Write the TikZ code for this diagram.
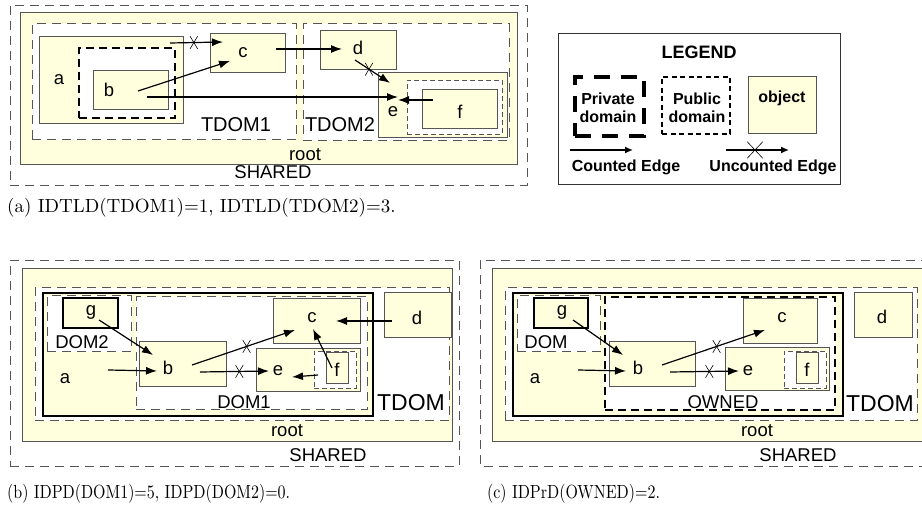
\documentclass[tikz,border=0pt]{standalone}
\usepackage{fontspec}
\usepackage{graphicx}
\usetikzlibrary{arrows.meta,fit,shapes.misc}
\newfontfamily\arialf{Liberation Sans}
\newfontfamily\capfont{lmroman10-regular}[Extension=.otf]
\definecolor{cream}{RGB}{255,255,221}
\definecolor{dgray}{RGB}{85,85,85}
\begin{document}
\begin{tikzpicture}[x=1pt,y=-1pt,
  sharedbox/.style={draw=dgray, line width=0.9pt, dash pattern=on 9pt off 6pt, inner sep=0pt},
  rootbox/.style={fill=cream, draw=dgray, line width=1pt, inner sep=0pt},
  pubdom/.style={fill=white, draw=dgray, line width=1pt, dash pattern=on 9pt off 6pt, inner sep=0pt},
  pubsmall/.style={fill=white, draw=dgray, line width=0.9pt, dash pattern=on 5pt off 3pt, inner sep=0pt},
  privdom/.style={fill=white, draw=black, line width=2.2pt, dash pattern=on 8pt off 5pt, inner sep=0pt},
  objbox/.style={fill=cream, draw=dgray, line width=1pt, inner sep=0pt},
  thickobj/.style={fill=cream, draw=black, line width=1.8pt, inner sep=0pt},
  lbl/.style={font=\arialf\fontsize{18.5}{20}\selectfont, inner sep=0pt},
  albl/.style={font=\arialf\fontsize{20}{22}\selectfont, inner sep=0pt},
  biglbl/.style={font=\arialf\fontsize{23}{26}\selectfont, inner sep=0pt},
  edge/.style={draw=black, line width=1.2pt, -{Latex[length=11pt,width=8pt]}},
  crossx/.style={draw=black, cross out, line width=0.6pt, minimum width=7pt, minimum height=12pt, inner sep=0pt},
  capt/.style={font=\capfont\fontsize{19}{22}\selectfont, inner sep=0pt, anchor=base west},
  legtxt/.style={font=\arialf\bfseries\fontsize{16}{18}\selectfont, inner sep=0pt, align=center},
  legedge/.style={draw=black, line width=1.5pt, -{Latex[length=8pt,width=7pt]}},
]
\useasboundingbox (0,0) rectangle (922,510);

% ================= (a) =================
\node[sharedbox, fit={(10,5) (527,185)}] (Ashared) {};
\node[rootbox, fit={(20,13) (517,165)}] (Aroot) {};
\node[pubdom, fit={(32,24) (296,140)}] (Atdom1) {};
\node[pubdom, fit={(303,24) (509,141)}] (Atdom2) {};
\node[objbox, fit={(39,37) (183,124)}] (Aa) {};
\node[privdom, fit={(79,48) (175,118)}] (Apriv) {};
\node[objbox, fit={(93,71) (168,110)}] (Ab) {};
\node[objbox, fit={(210,34) (285,73)}] (Ac) {};
\node[objbox, fit={(320,31) (396,70)}] (Ad) {};
\node[objbox, fit={(378,73) (507,138)}] (Ae) {};
\node[pubsmall, fit={(407,80) (502,134)}] (Afdom) {};
\node[objbox, fit={(422,90) (497,129)}] (Af) {};

\node[lbl] (Aal) at (59,80) {a};
\node[lbl] (Abl) at (109,90) {b};
\node[lbl] (Acl) at (243,53) {c};
\node[lbl] (Adl) at (358,48) {d};
\node[lbl] (Ael) at (393,112) {e};
\node[lbl] (Afl) at (460,112) {f};
\node[albl] (At1l) at (236,125) {TDOM1};
\node[albl] (At2l) at (340,125) {TDOM2};
\node[lbl] (Arl) at (305,155) {root};
\node[lbl] (Asl) at (273,172) {SHARED};

\coordinate (Aac1) at (170,43);  \coordinate (Aac2) at (223,42);
\coordinate (Abc1) at (138,91);  \coordinate (Abc2) at (230,61);
\coordinate (Abe1) at (147,97);  \coordinate (Abe2) at (398,97);
\coordinate (Acd1) at (276,49);  \coordinate (Acd2) at (342,49);
\coordinate (Ade1) at (355,60);  \coordinate (Ade2) at (390,83);
\coordinate (Afe1) at (433,100); \coordinate (Afe2) at (398,100);
\draw[edge] (Aac1) -- node[crossx, pos=0.45] {} (Aac2);
\draw[edge] (Abc1) -- (Abc2);
\draw[edge] (Abe1) -- (Abe2);
\draw[edge] (Acd1) -- (Acd2);
\draw[edge] (Ade1) -- node[crossx, pos=0.4] {} (Ade2);
\draw[edge] (Afe1) -- (Afe2);

% ================= legend =================
\node[draw=black!80, line width=1pt, fill=white, inner sep=0pt, fit={(558,34) (840,185)}] (Leg) {};
\node[font=\arialf\bfseries\fontsize{18}{20}\selectfont, inner sep=0pt] (Legt) at (699,52) {LEGEND};
\node[draw=black, line width=4.5pt, dash pattern=on 16pt off 11pt, inner sep=0pt, fit={(575,77) (644,136)}] (Lpriv) {};
\node[legtxt] (Lprivt) at (608,108) {Private\\domain};
\node[draw=black, line width=2pt, dash pattern=on 5pt off 3.5pt, inner sep=0pt, fit={(662,77) (730,134)}] (Lpub) {};
\node[legtxt] (Lpubt) at (697,108) {Public\\domain};
\node[objbox, fit={(748,77) (816,134)}] (Lobj) {};
\node[legtxt] (Lobjt) at (782,98) {object};
\coordinate (Lc1) at (570,150); \coordinate (Lc2) at (633,150);
\coordinate (Lu1) at (726,150); \coordinate (Lu2) at (789,150);
\draw[legedge] (Lc1) -- (Lc2);
\draw[legedge] (Lu1) -- node[draw=black, cross out, line width=0.6pt, minimum width=15pt, minimum height=16pt, inner sep=0pt, pos=0.46] {} (Lu2);
\node[legtxt] (Lct) at (626,167) {Counted Edge};
\node[legtxt] (Lut) at (773,167) {Uncounted Edge};

\node[capt] (Acap) at (7,213) {(a) IDTLD(TDOM1)=1, IDTLD(TDOM2)=3.};

% ================= (b) =================
\node[sharedbox, fit={(10,260) (459,466)}] (Bshared) {};
\node[rootbox, fit={(22,269) (452,442)}] (Broot) {};
\node[pubdom, fit={(35,288) (449,421)}] (Btdom) {};
\node[thickobj, fit={(43,293) (373,416)}] (Ba) {};
\node[pubdom, fit={(47,296) (131,352)}] (Bdom2) {};
\node[thickobj, fit={(63,298) (118,328)}] (Bg) {};
\node[pubdom, fit={(136,297) (367,410)}] (Bdom1) {};
\node[objbox, fit={(139,342) (226,387)}] (Bb) {};
\node[objbox, fit={(273,299) (360,344)}] (Bc) {};
\node[objbox, fit={(256,349) (360,392)}] (Be) {};
\node[pubsmall, fit={(314,351) (356,388)}] (Bfdom) {};
\node[objbox, fit={(326,353) (348,384)}] (Bf) {};
\node[objbox, fit={(384,293) (451,338)}] (Bd) {};

\node[lbl] (Bgl) at (91,312) {g};
\node[lbl] (Bdom2l) at (82,342) {DOM2};
\node[lbl] (Bal) at (65,379) {a};
\node[lbl] (Bbl) at (168,368) {b};
\node[lbl] (Bcl) at (312,318) {c};
\node[lbl] (Bel) at (278,371) {e};
\node[lbl] (Bfl) at (337,370) {f};
\node[lbl] (Bdl) at (417,318) {d};
\node[lbl] (Bdom1l) at (244,402) {DOM1};
\node[biglbl] (Btl) at (411,403) {TDOM};
\node[lbl] (Brl) at (287,431) {root};
\node[lbl] (Bsl) at (328,455) {SHARED};

\coordinate (Bgb1) at (99,320);  \coordinate (Bgb2) at (153,355);
\coordinate (Bab1) at (108,370); \coordinate (Bab2) at (157,371);
\coordinate (Bbc1) at (192,365); \coordinate (Bbc2) at (295,330);
\coordinate (Bbe1) at (200,372); \coordinate (Bbe2) at (269,371);
\coordinate (Bdc1) at (392,321); \coordinate (Bdc2) at (336,321);
\coordinate (Bfc1) at (332,368); \coordinate (Bfc2) at (313,329);
\coordinate (Bfe1) at (318,375); \coordinate (Bfe2) at (292,377);
\draw[edge] (Bgb1) -- (Bgb2);
\draw[edge] (Bab1) -- (Bab2);
\draw[edge] (Bbc1) -- node[crossx, pos=0.53] {} (Bbc2);
\draw[edge] (Bbe1) -- node[crossx, pos=0.57] {} (Bbe2);
\draw[edge] (Bdc1) -- (Bdc2);
\draw[edge] (Bfc1) -- (Bfc2);
\draw[edge] (Bfe1) -- (Bfe2);

\node[capt] (Bcap) at (7,499) {\scalebox{0.84}[1]{(b) IDPD(DOM1)=5, IDPD(DOM2)=0.}};

% ================= (c) =================
\coordinate (Cs1) at (930,260); \coordinate (Cs2) at (480,260);
\coordinate (Cs3) at (480,466); \coordinate (Cs4) at (930,466);
\draw[draw=dgray, line width=0.9pt, dash pattern=on 9pt off 6pt] (Cs1) -- (Cs2) -- (Cs3) -- (Cs4);
\node[rootbox, fit={(492,269) (926,442)}] (Croot) {};
\node[pubdom, fit={(505,288) (917,421)}] (Ctdom) {};
\node[thickobj, fit={(513,293) (843,416)}] (Ca) {};
\node[pubdom, fit={(517,296) (600,352)}] (Cdom) {};
\node[thickobj, fit={(534,298) (588,328)}] (Cg) {};
\node[privdom, fit={(605,297) (835,410)}] (Cowned) {};
\node[objbox, fit={(609,342) (695,387)}] (Cb) {};
\node[objbox, fit={(743,299) (817,344)}] (Cc) {};
\node[objbox, fit={(725,348) (829,391)}] (Ce) {};
\node[pubsmall, fit={(784,351) (826,388)}] (Cfdom) {};
\node[objbox, fit={(796,353) (818,384)}] (Cf) {};
\node[objbox, fit={(854,293) (912,338)}] (Cd) {};

\node[lbl] (Cgl) at (562,312) {g};
\node[lbl] (Cdoml) at (546,342) {DOM};
\node[lbl] (Cal) at (535,379) {a};
\node[lbl] (Cbl) at (638,368) {b};
\node[lbl] (Ccl) at (782,318) {c};
\node[lbl] (Cel) at (748,371) {e};
\node[lbl] (Cfl) at (807,370) {f};
\node[lbl] (Cdl) at (882,317) {d};
\node[lbl] (Cownl) at (723,402) {OWNED};
\node[biglbl] (Ctl) at (880,404) {TDOM};
\node[lbl] (Crl) at (757,431) {root};
\node[lbl] (Csl) at (798,455) {SHARED};

\coordinate (Cgb1) at (573,320); \coordinate (Cgb2) at (623,355);
\coordinate (Cab1) at (578,370); \coordinate (Cab2) at (626,371);
\coordinate (Cbc1) at (662,365); \coordinate (Cbc2) at (765,330);
\coordinate (Cbe1) at (670,372); \coordinate (Cbe2) at (739,371);
\draw[edge] (Cgb1) -- (Cgb2);
\draw[edge] (Cab1) -- (Cab2);
\draw[edge] (Cbc1) -- node[crossx, pos=0.53] {} (Cbc2);
\draw[edge] (Cbe1) -- node[crossx, pos=0.57] {} (Cbe2);

\node[capt] (Ccap) at (487,499) {\scalebox{0.84}[1]{(c) IDPrD(OWNED)=2.}};
\end{tikzpicture}
\end{document}
